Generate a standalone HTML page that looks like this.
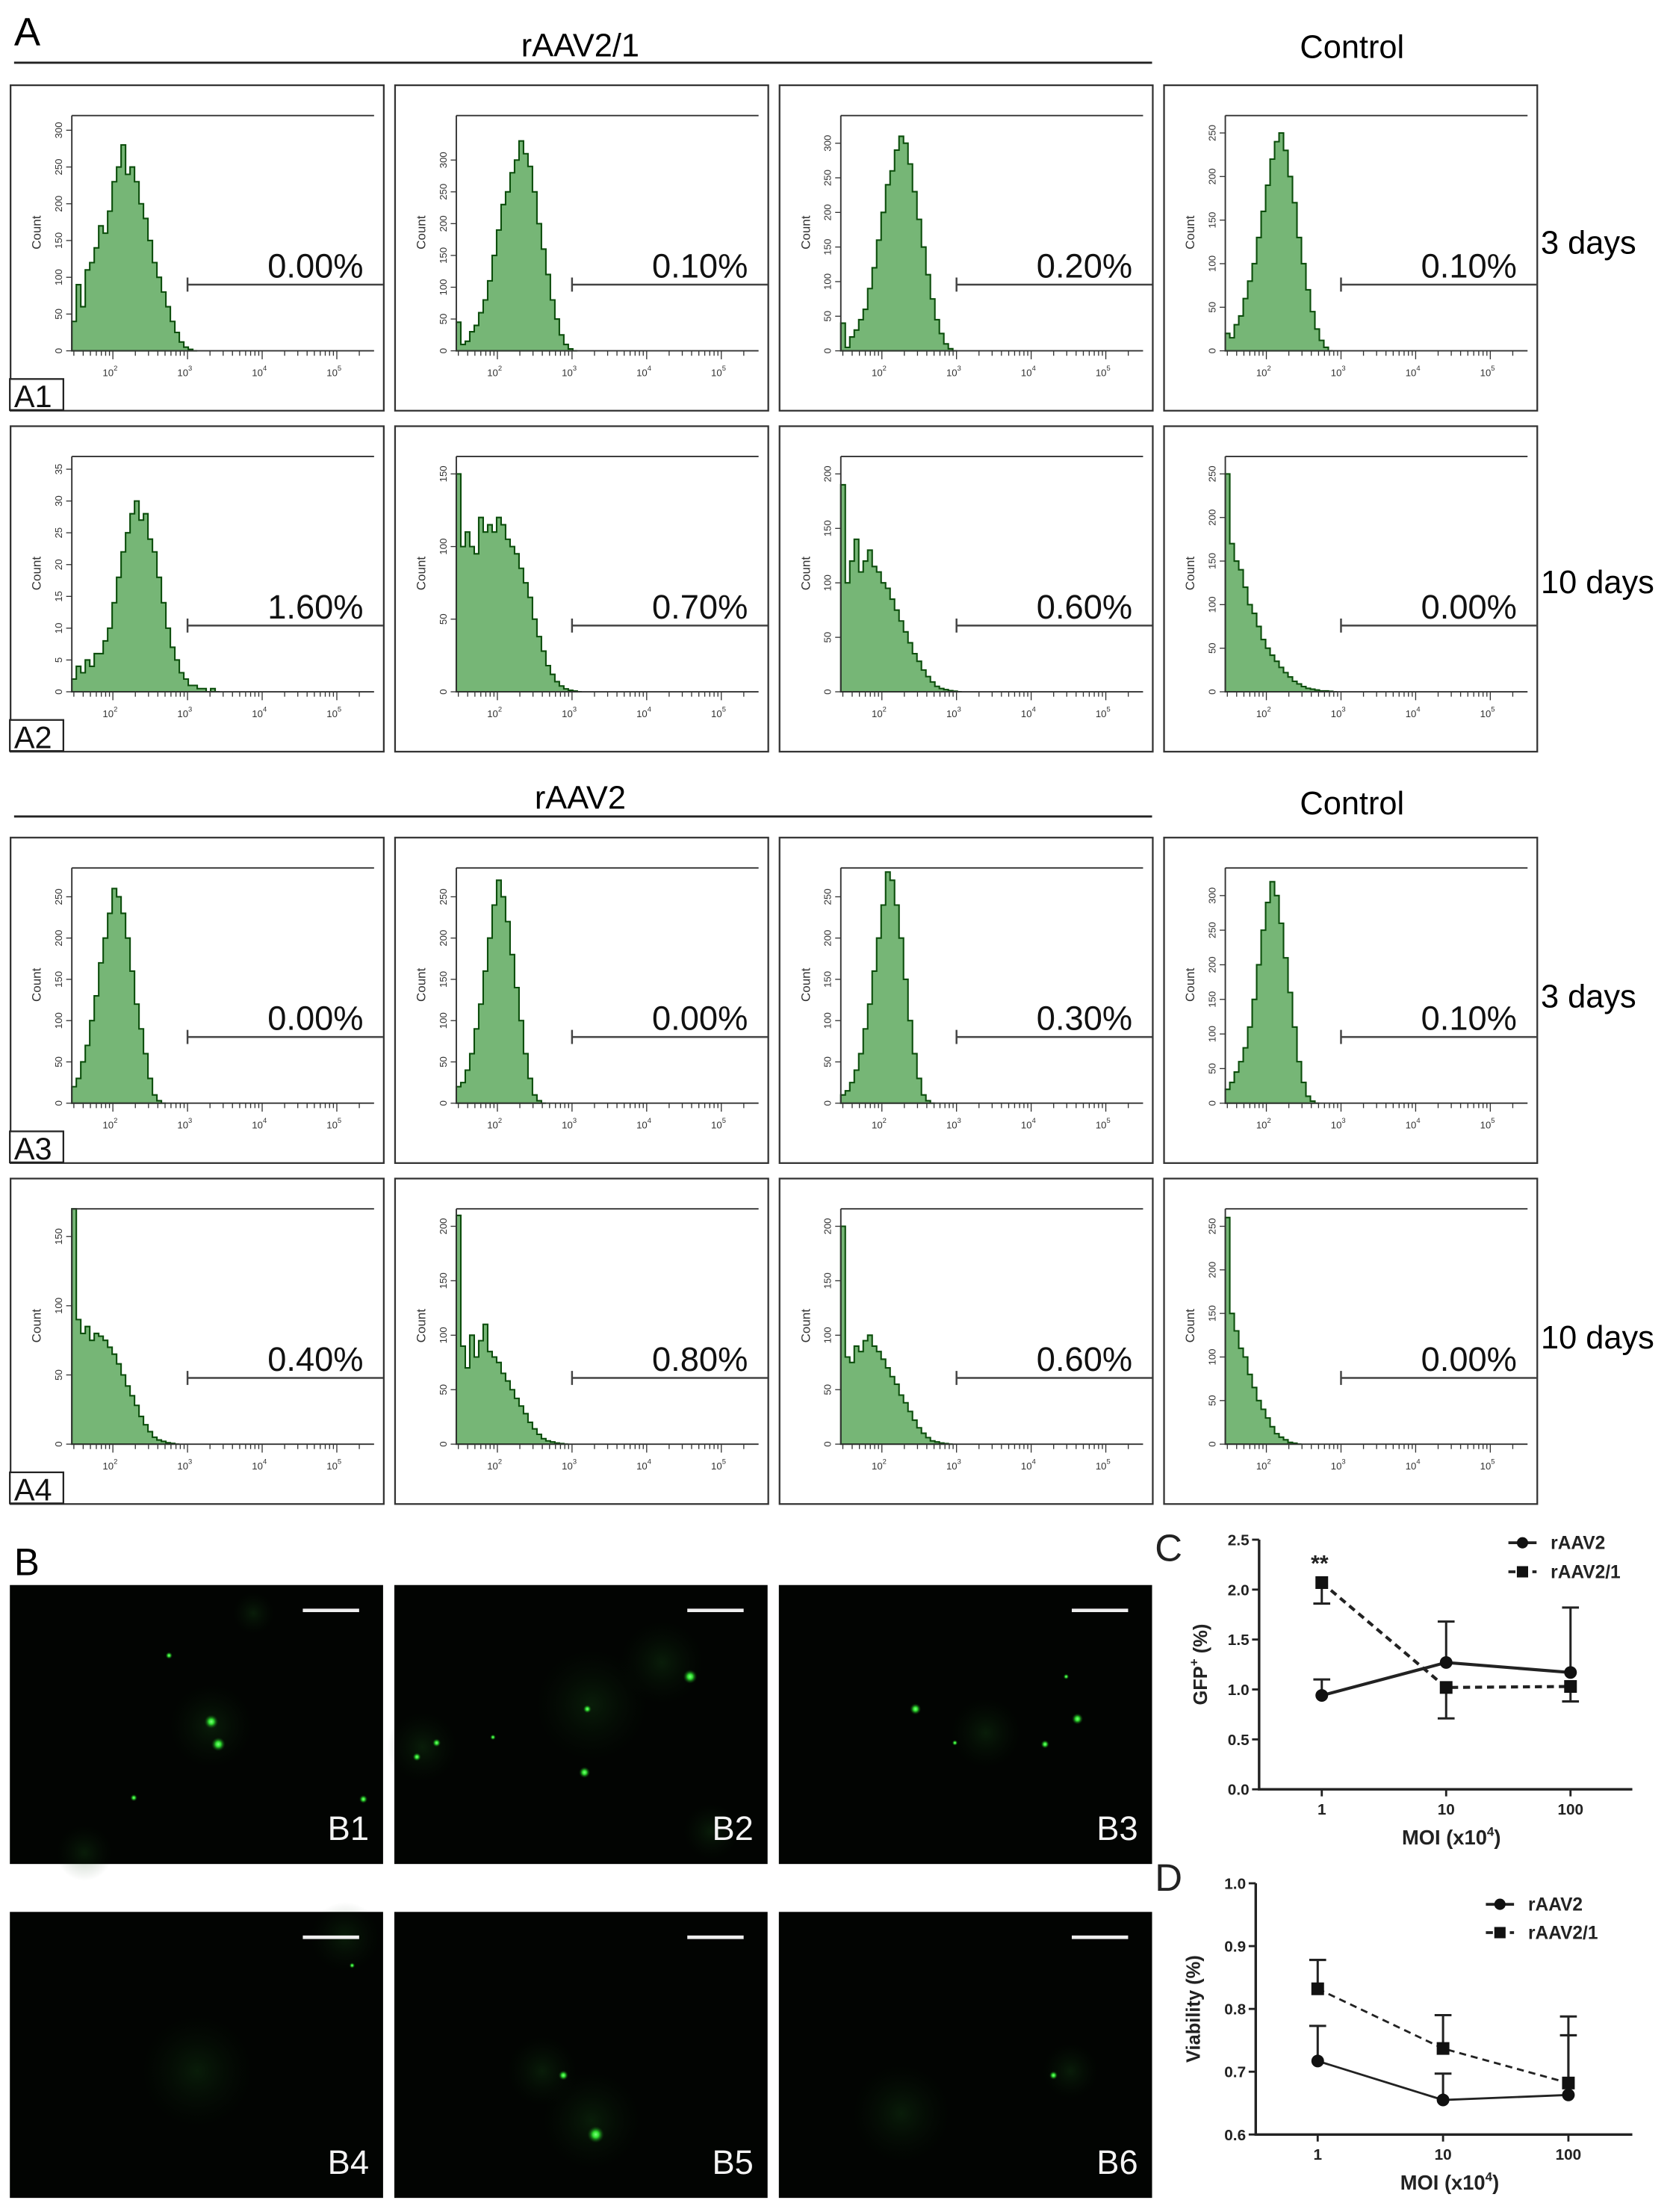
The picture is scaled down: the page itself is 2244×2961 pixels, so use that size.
<!DOCTYPE html>
<html><head><meta charset="utf-8">
<style>
html,body{margin:0;padding:0;background:#fff;}
svg{display:block;}
text{font-family:"Liberation Sans",sans-serif;}
</style></head>
<body>
<svg id="fig" xmlns="http://www.w3.org/2000/svg" width="2244" height="2961" viewBox="0 0 1190 1570" preserveAspectRatio="none">
<defs>
<radialGradient id="dot"><stop offset="0" stop-color="#7dff7d"/><stop offset="0.35" stop-color="#2fe02f"/><stop offset="1" stop-color="#0a3a0a" stop-opacity="0"/></radialGradient>
<radialGradient id="blot"><stop offset="0" stop-color="#1f6a1f" stop-opacity="0.8"/><stop offset="1" stop-color="#0b2a0b" stop-opacity="0"/></radialGradient>
</defs>
<rect x="0" y="0" width="1190" height="1570" fill="#fff"/>
<text x="10" y="32" font-size="28">A</text>
<text x="412" y="40" font-size="23" text-anchor="middle">rAAV2/1</text>
<line x1="10" y1="44.5" x2="818" y2="44.5" stroke="#222" stroke-width="1.5"/>
<text x="960" y="41" font-size="23" text-anchor="middle">Control</text>
<text x="412" y="574" font-size="23" text-anchor="middle">rAAV2</text>
<line x1="10" y1="579.5" x2="818" y2="579.5" stroke="#222" stroke-width="1.5"/>
<text x="960" y="578" font-size="23" text-anchor="middle">Control</text>
<text x="1094" y="180" font-size="23">3 days</text>
<text x="1094" y="421" font-size="23">10 days</text>
<text x="1094" y="715" font-size="23">3 days</text>
<text x="1094" y="957" font-size="23">10 days</text>
<g id="hists"></g>
<text x="10" y="1118" font-size="27">B</text>
<g id="micro"></g>
<g id="chartC"></g>
<g id="chartD"></g>
</svg>
<script>
// ---------- Histogram data (counts per log bin, start 10^1.45, width 0.06 decades) ----------
const histBinStart = 1.45;
const histBinWidth = 0.06;
const histPercents = [
  ["0.00%","0.10%","0.20%","0.10%"],
  ["1.60%","0.70%","0.60%","0.00%"],
  ["0.00%","0.00%","0.30%","0.10%"],
  ["0.40%","0.80%","0.60%","0.00%"]
];
const histYTop = [
  [300,300,300,250],
  [35,150,200,250],
  [250,250,250,300],
  [150,200,200,250]
];
const histYStep = [
  [50,50,50,50],
  [5,50,50,50],
  [50,50,50,50],
  [50,50,50,50]
];
const histYMax = [
  [320,370,340,270],
  [37,162,216,270],
  [285,285,285,340],
  [170,216,216,270]
];
const histCounts = [
 [
  [40,90,60,110,120,140,170,160,190,230,250,280,240,250,230,200,180,150,120,100,80,60,40,25,12,5,2,0],
  [45,10,15,30,40,60,80,110,150,190,230,250,280,300,330,310,290,250,200,160,120,80,50,25,10,3,0],
  [40,5,20,30,45,60,90,120,160,200,240,260,290,310,300,270,230,190,150,110,75,45,25,10,3,0],
  [20,15,30,40,60,80,100,130,160,190,220,240,250,230,200,170,130,100,70,45,25,12,4,0]
 ],
 [
  [2,4,3,5,4,6,6,8,10,14,18,22,25,28,30,27,28,24,22,18,14,10,7,5,3,2,1,1,0.5,0.5,0,0.5,0],
  [150,100,110,100,95,120,110,115,110,120,115,105,100,95,85,75,65,50,38,28,18,12,7,4,2,1,0.5,0],
  [190,100,120,140,110,120,130,115,110,100,95,85,75,65,55,45,35,28,20,14,9,5,3,2,1,0.5,0],
  [250,170,150,140,120,100,90,75,60,50,42,35,28,22,17,12,9,6,4,3,2,1,1,0.5,0]
 ],
 [
  [20,30,50,70,100,130,170,200,230,260,250,230,200,160,120,90,60,30,10,3,0],
  [20,25,40,60,90,120,160,200,240,270,250,220,180,140,100,60,30,10,3,0],
  [10,15,25,40,60,90,120,160,200,240,280,270,240,200,150,100,60,30,10,3,0],
  [20,30,45,60,80,110,150,200,250,290,320,300,260,210,160,110,60,30,10,3,0]
 ],
 [
  [170,90,80,85,75,80,78,75,70,65,58,50,42,35,28,20,14,9,5,3,2,1,0.5,0],
  [210,90,70,100,80,95,110,85,80,75,65,58,50,42,35,28,20,14,9,5,3,2,1,0.5,0],
  [200,80,75,90,85,95,100,90,85,78,70,62,55,45,38,30,22,15,10,6,3,2,1,0.5,0],
  [260,150,130,110,100,80,65,50,40,30,20,12,8,5,2,1,0]
 ]
];
const decadeLabels = ["2","3","4","5"];

const SVGNS = "http://www.w3.org/2000/svg";
function mk(tag, attrs, parent){
  const e = document.createElementNS(SVGNS, tag);
  for (const k in attrs) e.setAttribute(k, attrs[k]);
  if (parent) parent.appendChild(e);
  return e;
}
const colX = [7,280,553,826];
const rowY = [60,302,594,836];
const panelW = 265, panelH = 231;
const hg = document.getElementById('hists');
for (let r=0;r<4;r++){
  for (let c=0;c<4;c++){
    const px = colX[c], py = rowY[r];
    const g = mk('g', {}, hg);
    
    
    const box = mk('rect', {x:px+0.5,y:py+0.5,width:panelW,height:panelH,fill:'#fff',stroke:'#333','stroke-width':1.2}, g);
    
    
    const ax0 = px+44, ax1 = px+258.6, top = py+22, base = py+189;
    const xLog = v => ax0 + (v - histBinStart) * 53;
    const yCnt = v => base - v / histYMax[r][c] * (base-top);
    const cnts = histCounts[r][c];
    let d = 'M'+xLog(histBinStart)+','+base;
    for (let i=0;i<cnts.length;i++){
      const xa = xLog(histBinStart + i*histBinWidth), xb = xLog(histBinStart + (i+1)*histBinWidth);
      const y = yCnt(cnts[i]);
      d += ' L'+xa+','+y+' L'+xb+','+y;
    }
    d += ' L'+xLog(histBinStart + cnts.length*histBinWidth)+','+base+' Z';
    const hp = mk('path', {d:d, fill:'#76b676', stroke:'#0b4d0b', 'stroke-width':1.1, 'stroke-linejoin':'miter'}, g);
    
    
    const ax = mk('path', {d:'M'+ax0+','+top+' L'+ax0+','+base+' L'+ax1+','+base+' M'+ax0+','+top+' L'+ax1+','+top, fill:'none', stroke:'#333','stroke-width':1}, g);
    
    
    for (let dcd=1; dcd<=5; dcd++){
      for (let m=1;m<=9;m++){
        const lv = dcd + Math.log10(m);
        if (lv < histBinStart || lv > 5.4) continue;
        const x = xLog(lv);
        mk('line', {x1:x,y1:base,x2:x,y2:base+(m===1?6:3.5),stroke:'#333','stroke-width':0.7}, g);
      }
    }
    decadeLabels.forEach((lab, i) => {
      const t = mk('text', {x:xLog(2+i)-2, y:base+18, 'font-size':7, 'text-anchor':'middle', fill:'#333'}, g);
      
      
      t.textContent = '10';
      const s = mk('tspan', {dy:-4, 'font-size':5}, t);
      s.textContent = lab;
    });
    for (let v=0; v<=histYTop[r][c]; v+=histYStep[r][c]){
      const y = yCnt(v);
      mk('line', {x1:ax0-4,y1:y,x2:ax0,y2:y,stroke:'#333','stroke-width':0.7}, g);
      const t = mk('text', {x:0,y:0,'font-size':7,'text-anchor':'middle',fill:'#333',transform:'translate('+(ax0-7)+','+y+') rotate(-90)'}, g);
      
      
      t.textContent = String(v);
    }
    const ct = mk('text', {x:0,y:0,'font-size':9,'text-anchor':'middle',fill:'#333',transform:'translate('+(px+22)+','+(py+105)+') rotate(-90)'}, g);
    
    
    ct.textContent = 'Count';
    const gx = xLog(3), gy = py+142;
    const gate = mk('path', {d:'M'+gx+','+(gy-5)+' L'+gx+','+(gy+5)+' M'+gx+','+gy+' L'+(px+panelW)+','+gy, stroke:'#444','stroke-width':1.3, fill:'none'}, g);
    
    
    const pt = mk('text', {x:px+251, y:py+137, 'font-size':24, 'text-anchor':'end', fill:'#111'}, g);
    
    
    pt.textContent = histPercents[r][c];
    if (c===0){
      const lb = mk('rect', {x:px,y:py+209,width:38,height:22,fill:'#fff',stroke:'#222','stroke-width':1.2}, g);
      
      
      const lt = mk('text', {x:px+3,y:py+229,'font-size':22,fill:'#111'}, g);
      
      
      lt.textContent = 'A'+(r+1);
    }
  }
}

// ---------- Microscopy images ----------
const microLabels = ["B1","B2","B3","B4","B5","B6"];
const microDots = [
  [[150,1222,5],[155,1238,5],[120,1175,2.5],[95,1276,2.5],[258,1277,3]],
  [[490,1190,5],[415,1258,4],[310,1237,3],[296,1247,3],[350,1233,2],[417,1213,3]],
  [[650,1213,4],[765,1220,4],[678,1237,2],[742,1238,3],[757,1190,2]],
  [[250,1395,2]],
  [[400,1473,3.5],[423,1515,6]],
  [[748,1473,3]]
];
const microBlots = [
  [[150,1225,30],[60,1315,20],[180,1145,15]],
  [[420,1210,40],[300,1240,25],[505,1300,20],[470,1180,30]],
  [[700,1230,25]],
  [[140,1470,40],[245,1375,25]],
  [[420,1505,35],[385,1470,25]],
  [[640,1500,35],[760,1470,20]]
];
const mg = document.getElementById('micro');
for (let i=0;i<6;i++){
  const px = colX[i%3], py = i<3 ? 1125 : 1357, h = i<3 ? 198 : 203;
  const g = mk('g', {}, mg);
  
  
  mk('rect', {x:px,y:py,width:265,height:h,fill:'#020402'}, g);
  microBlots[i].forEach(b => mk('circle', {cx:b[0],cy:b[1],r:b[2],fill:'url(#blot)',opacity:0.3}, g));
  microDots[i].forEach(dt => {
    const c = mk('circle', {cx:dt[0],cy:dt[1],r:dt[2],fill:'url(#dot)'}, g);
    
    
  });
  const sb = mk('line', {x1:px+208,y1:py+18,x2:px+248,y2:py+18,stroke:'#eee','stroke-width':2.5}, g);
  
  
  const t = mk('text', {x:px+255,y:py+h-17,'font-size':24,'text-anchor':'end',fill:'#f4f4f4'}, g);
  
  
  t.textContent = microLabels[i];
}

// ---------- Line charts C and D ----------
const moiCategories = ["1","10","100"];
const gfpRaav2 = [0.94, 1.27, 1.17];
const gfpRaav2Err = [0.16, 0.41, 0.65];
const gfpRaav21 = [2.07, 1.02, 1.03];
const gfpRaav21Err = [0.21, 0.31, 0.15];
const gfpTicks = ["0.0","0.5","1.0","1.5","2.0","2.5"];
const viaRaav2 = [0.717, 0.655, 0.663];
const viaRaav2Err = [0.056, 0.042, 0.095];
const viaRaav21 = [0.832, 0.737, 0.682];
const viaRaav21Err = [0.046, 0.053, 0.106];
const viaTicks = ["0.6","0.7","0.8","0.9","1.0"];

function lineChart(cfg){
  const g = document.getElementById(cfg.id);
  const {axL, axR, yTop, yBot, vMin, vMax, x0, dx} = cfg;
  const xS = i => x0 + i*dx;
  const yS = v => yBot - (v - vMin)/(vMax - vMin)*(yBot - yTop);
  const ax = mk('path', {d:'M'+axL+','+yTop+' L'+axL+','+yBot+' L'+axR+','+yBot, fill:'none', stroke:'#222','stroke-width':1.8}, g);
  
  
  cfg.ticks.forEach(tl => {
    const y = yS(parseFloat(tl));
    mk('line', {x1:axL-5,y1:y,x2:axL,y2:y,stroke:'#222','stroke-width':1.5}, g);
    const t = mk('text', {x:axL-7,y:y+4,'font-size':11,'font-weight':'bold','text-anchor':'end',fill:'#222'}, g);
    
    
    t.textContent = tl;
  });
  moiCategories.forEach((c,i) => {
    mk('line', {x1:xS(i),y1:yBot,x2:xS(i),y2:yBot+5,stroke:'#222','stroke-width':1.5}, g);
    const t = mk('text', {x:xS(i),y:yBot+18,'font-size':11,'font-weight':'bold','text-anchor':'middle',fill:'#222'}, g);
    
    
    t.textContent = c;
  });
  const xt = mk('text', {x:(axL+axR)/2+4,y:yBot+39,'font-size':14.5,'font-weight':'bold','text-anchor':'middle',fill:'#222'}, g);
  
  
  xt.textContent = 'MOI (x10';
  const sup = mk('tspan', {dy:-6,'font-size':9}, xt); sup.textContent = '4';
  const cl = mk('tspan', {dy:6}, xt); cl.textContent = ')';
  const yt = mk('text', {x:0,y:0,'font-size':13.5,'font-weight':'bold','text-anchor':'middle',fill:'#222',transform:'translate('+cfg.ytX+','+((yTop+yBot)/2)+') rotate(-90)'}, g);
  
  
  if (cfg.gfp){
    yt.textContent = 'GFP';
    const s2 = mk('tspan', {dy:-6,'font-size':9}, yt); s2.textContent = '+';
    const s3 = mk('tspan', {dy:6}, yt); s3.textContent = ' (%)';
  } else yt.textContent = 'Viability (%)';
  const pl = mk('text', {x:cfg.lblX,y:cfg.lblY,'font-size':27,fill:'#222'}, g);
  
  
  pl.textContent = cfg.label;

  cfg.series.forEach(s => {
    const sg = mk('g', {}, g);
    
    
    s.err.forEach((e,i) => {
      const x = xS(i), yv = yS(s.vals[i]), ye = yS(s.vals[i] + s.dir[i]*e);
      const eb = mk('path', {d:'M'+x+','+yv+' L'+x+','+ye+' M'+(x-6)+','+ye+' L'+(x+6)+','+ye, stroke:'#222','stroke-width':1.6, fill:'none'}, sg);
      
      
    });
    const pts = s.vals.map((v,i) => xS(i)+','+yS(v)).join(' ');
    const ln = mk('polyline', {points:pts, fill:'none', stroke:'#222', 'stroke-width':cfg.lw, 'stroke-dasharray': s.dash ? '5,3.5' : 'none'}, sg);
    
    
    s.vals.forEach((v,i) => {
      const x = xS(i), y = yS(v);
      const m = s.square ? mk('rect', {x:x-4.5,y:y-4.5,width:9,height:9,fill:'#111'}, sg) : mk('circle', {cx:x,cy:y,r:4.5,fill:'#111'}, sg);
      
      
    });
  });
  cfg.series.forEach((s,k) => {
    const y = cfg.legY + k*cfg.legDy;
    const lg = mk('g', {}, g);
    
    
    mk('line', {x1:cfg.legX,y1:y,x2:cfg.legX+20,y2:y,stroke:'#222','stroke-width':2,'stroke-dasharray': s.dash ? '5,3.5':'none'}, lg);
    if (s.square) mk('rect', {x:cfg.legX+6,y:y-4,width:8,height:8,fill:'#111'}, lg);
    else mk('circle', {cx:cfg.legX+10,cy:y,r:4,fill:'#111'}, lg);
    const t = mk('text', {x:cfg.legX+30,y:y+4.5,'font-size':13,'font-weight':'bold',fill:'#222'}, lg);
    t.textContent = s.name;
  });
}
lineChart({id:'chartC', gfp:true, axL:894, axR:1159, yTop:1092.8, yBot:1270, vMin:0, vMax:2.5, x0:938.5, dx:88.3,
  ticks:gfpTicks, lw:2.2, ytX:857, lblX:820, lblY:1108, label:'C', legX:1071, legY:1095, legDy:20.6,
  series:[{name:'rAAV2', vals:gfpRaav2, err:gfpRaav2Err, dir:[1,1,1], dash:false, square:false},
          {name:'rAAV2/1', vals:gfpRaav21, err:gfpRaav21Err, dir:[-1,-1,-1], dash:true, square:true}]});
lineChart({id:'chartD', gfp:false, axL:891.6, axR:1159, yTop:1336.7, yBot:1515, vMin:0.6, vMax:1.0, x0:935.6, dx:89,
  ticks:viaTicks, lw:1.5, ytX:852, lblX:820, lblY:1342, label:'D', legX:1055, legY:1351.6, legDy:20.1,
  series:[{name:'rAAV2', vals:viaRaav2, err:viaRaav2Err, dir:[1,1,1], dash:false, square:false},
          {name:'rAAV2/1', vals:viaRaav21, err:viaRaav21Err, dir:[1,1,1], dash:true, square:true}]});
const star = mk('text', {x:937, y:1115, 'font-size':16, 'font-weight':'bold', 'text-anchor':'middle', fill:'#222'}, document.getElementById('chartC'));


star.textContent = '**';
</script>
</body></html>
